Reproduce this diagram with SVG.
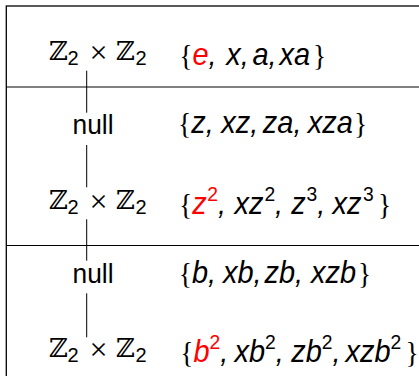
<svg xmlns="http://www.w3.org/2000/svg" width="419" height="376" viewBox="0 0 419 376">
<style>
.bb{font-family:"DejaVu Serif","DejaVu Sans",serif;font-size:26px;fill:#000}
.sub{font-family:"Liberation Sans",Arial,sans-serif;font-size:20px;fill:#000}
.op{font-family:"Liberation Serif","Times New Roman",serif;font-size:32px;fill:#000}
.nul{font-family:"Liberation Sans",Arial,sans-serif;font-size:28px;fill:#000}
.set{font-family:"Liberation Sans",Arial,sans-serif;font-size:31.5px;font-style:italic;fill:#000}
.br{font-family:"Liberation Serif","Times New Roman",serif;font-size:30px;font-style:normal}
.sp{font-size:21px;font-style:normal}
.red{fill:#ff0000}
.frame{fill:none;stroke:#000}
.conn{stroke:#000;stroke-width:1;fill:none}
</style>
<g id="table">
<rect class="frame" x="6.3" y="6" width="430" height="390" stroke-width="1.3"/>
<line class="frame" x1="6" y1="87" x2="419" y2="87" stroke-width="1"/>
<line class="frame" x1="6" y1="245.5" x2="419" y2="245.5" stroke-width="1"/>
</g>
<g id="connectors">
<line class="conn" x1="86.7" y1="70.7" x2="86.7" y2="112.7"/>
<line class="conn" x1="86.7" y1="145" x2="86.7" y2="187.3"/>
<line class="conn" x1="86.7" y1="219.3" x2="86.7" y2="260.7"/>
<line class="conn" x1="86.7" y1="293.3" x2="86.7" y2="337.3"/>
</g>
<g id="row1">
<text class="bb" x="49" y="60">ℤ</text><text class="sub" x="67.5" y="65">2</text>
<text class="op" x="98.5" y="63" text-anchor="middle">×</text>
<text class="bb" x="116" y="60">ℤ</text><text class="sub" x="135.5" y="65">2</text>
<text class="set" y="65" transform="scale(0.92 1)"><tspan class="br" x="194.84">{</tspan><tspan x="209.24" class="red">e</tspan><tspan>,</tspan><tspan x="245.87">x,</tspan><tspan x="274.46">a,</tspan><tspan x="303.8">xa</tspan><tspan class="br" x="340.22">}</tspan></text>
</g>
<g id="row2">
<text class="nul" x="72.5" y="133.5" textLength="41" lengthAdjust="spacingAndGlyphs">null</text>
<text class="set" y="133.5" transform="scale(0.92 1)"><tspan class="br" x="193.42">{</tspan><tspan x="207.83">z,</tspan><tspan x="240.43">xz,</tspan><tspan x="285.65">za,</tspan><tspan x="334.57">xza</tspan><tspan class="br" x="384.78">}</tspan></text>
</g>
<g id="row3">
<text class="bb" x="49" y="209">ℤ</text><text class="sub" x="67.5" y="214">2</text>
<text class="op" x="98.5" y="212" text-anchor="middle">×</text>
<text class="bb" x="116" y="209">ℤ</text><text class="sub" x="135.5" y="214">2</text>
<text class="set" y="214" transform="scale(0.92 1)"><tspan class="br" x="194.51">{</tspan><tspan x="208.91" class="red">z</tspan><tspan class="sp red" dx="0.5" y="201.5">2</tspan><tspan y="214">,</tspan><tspan x="254.89">xz</tspan><tspan class="sp" dx="1" y="201.5">2</tspan><tspan y="214">,</tspan><tspan x="316.52">z</tspan><tspan class="sp" dx="1" y="201.5">3</tspan><tspan y="214">,</tspan><tspan x="361.41">xz</tspan><tspan class="sp" dx="1.6" y="201.5">3</tspan><tspan class="br" x="410.87" y="214">}</tspan></text>
</g>
<g id="row4">
<text class="nul" x="72.5" y="283.3" textLength="41" lengthAdjust="spacingAndGlyphs">null</text>
<text class="set" y="283.3" transform="scale(0.92 1)"><tspan class="br" x="194.29">{</tspan><tspan x="208.7">b,</tspan><tspan x="242.39">xb,</tspan><tspan x="287.5">zb,</tspan><tspan x="338.04">xzb</tspan><tspan class="br" x="389.13">}</tspan></text>
</g>
<g id="row5">
<text class="bb" x="49" y="357">ℤ</text><text class="sub" x="67.5" y="362">2</text>
<text class="op" x="98.5" y="360" text-anchor="middle">×</text>
<text class="bb" x="116" y="357">ℤ</text><text class="sub" x="135.5" y="362">2</text>
<text class="set" y="362" transform="scale(0.92 1)"><tspan class="br" x="195.92">{</tspan><tspan x="210.33" class="red">b</tspan><tspan class="sp red" y="349.5">2</tspan><tspan y="362">,</tspan><tspan x="254.89">xb</tspan><tspan class="sp" y="349.5">2</tspan><tspan y="362">,</tspan><tspan x="316.52">zb</tspan><tspan class="sp" y="349.5">2</tspan><tspan y="362">,</tspan><tspan x="375.5">xzb</tspan><tspan class="sp" y="349.5">2</tspan><tspan class="br" x="440.76" y="362">}</tspan></text>
</g>
</svg>
